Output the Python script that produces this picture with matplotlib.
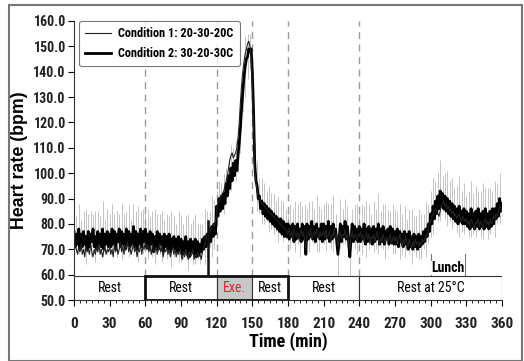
import matplotlib
matplotlib.use("Agg")
import matplotlib.pyplot as plt
import numpy as np
from matplotlib.patches import Rectangle

# ---------------- data ----------------
time_min = list(range(0, 361))

cond2 = [
    77,71,76,72,78,70,76,71,77,72,75,70,77,71,76,73,78,71,75,70,77,72,76,71,78,70,76,72,77,71,
    76,71,78,72,77,70,76,73,78,71,77,72,76,70,78,73,77,71,76,72,79,71,77,70,76,72,78,71,77,73,
    78,71,76,70,77,72,76,69,75,71,77,70,76,72,75,69,76,71,75,70,76,69,74,71,75,70,74,69,75,70,
    74,68,73,69,75,68,73,67,74,69,73,68,74,67,73,68,72,69,74,70,75,71,76,72,78,73,79,75,80,76,
    87,83,90,85,91,86,92,88,96,91,99,94,102,97,104,99,105,101,107,112,118,126,132,138,142,145,146,149,148,149,
    140,125,104,97,95,90,91,86,89,84,88,83,87,82,86,81,85,80,84,79,83,78,82,77,82,76,81,75,80,75,
    80,74,79,75,80,73,79,74,80,75,78,73,80,74,79,68,80,74,79,75,81,74,79,73,80,75,78,74,80,73,
    80,74,79,75,81,73,79,74,80,75,78,73,68,74,80,73,79,75,81,74,79,73,67,74,80,73,79,74,78,73,
    79,73,78,74,80,72,78,73,79,74,78,72,79,73,78,74,80,72,78,73,79,72,77,74,78,72,79,73,78,72,
    77,72,78,71,77,73,76,71,77,72,76,70,77,71,75,70,76,71,75,70,76,71,75,72,77,73,78,75,80,77,
    84,80,87,82,89,84,91,86,93,87,92,86,91,85,90,84,89,83,88,82,87,81,86,80,87,81,85,80,86,80,
    85,79,84,78,86,79,84,78,85,79,86,78,84,79,85,78,86,79,84,78,85,79,86,80,86,82,88,83,90,85,
    88,
]

cond1 = [
    74,71,70,68,71,69,72,68,70,67,71,69,70,68,72,69,67,70,68,71,69,72,68,70,67,69,71,68,70,69,
    71,68,70,67,72,69,71,68,70,73,69,71,68,72,70,73,69,71,68,70,72,69,71,67,70,69,72,68,71,70,
    73,70,72,69,71,68,72,70,69,71,68,70,72,69,71,67,70,69,71,68,70,67,69,71,68,70,67,69,68,70,
    68,66,69,67,70,68,66,69,67,68,70,66,68,67,69,67,68,66,69,70,72,74,75,76,78,77,79,80,79,81,
    85,88,89,90,91,92,93,95,97,99,102,105,107,108,106,107,108,110,114,120,128,135,140,144,147,149,151,152,150,146,
    135,118,102,96,93,91,90,89,88,88,87,86,86,85,85,84,84,83,83,82,82,81,81,80,80,79,79,78,78,77,
    76,78,75,77,74,78,76,75,77,74,76,78,75,77,73,70,76,77,75,78,74,76,77,75,78,76,74,77,75,76,
    77,75,78,74,76,77,73,76,75,78,74,76,71,75,77,74,76,75,78,74,76,73,70,75,77,74,76,75,73,76,
    75,77,74,76,73,75,77,74,76,72,75,74,76,73,75,77,74,72,75,73,76,74,72,75,73,74,76,72,74,75,
    73,75,72,74,76,73,71,74,72,75,73,71,74,72,70,73,71,74,72,73,71,73,72,74,73,74,75,76,78,80,
    81,83,84,85,86,85,84,83,85,87,88,89,87,88,86,87,85,86,84,85,83,84,82,83,84,82,81,83,82,81,
    82,80,81,79,82,81,80,78,81,80,82,79,81,80,78,81,82,80,81,79,82,80,81,83,82,84,83,85,87,86,
    85,
]

err_time = list(range(0, 361, 2))
err_sd = [
    9,7,10,6,8,11,7,9,6,10,8,7,11,6,9,8,10,7,9,6,11,8,7,10,6,9,8,11,7,9,
    8,10,6,9,11,7,8,10,6,9,7,11,8,6,10,9,7,8,11,6,9,10,7,8,6,11,9,7,12,10,
    6,7,5,8,6,7,9,6,8,7,10,8,12,9,7,6,8,10,7,9,8,6,9,7,8,6,9,7,8,6,
    7,9,6,10,8,11,7,9,6,10,8,7,11,9,6,8,10,7,9,11,6,8,10,7,9,8,11,6,9,10,
    8,10,7,11,9,6,10,8,12,7,9,11,8,6,10,9,7,11,8,10,6,9,11,7,8,10,9,7,11,8,
    9,11,8,10,12,7,9,11,8,10,7,9,12,8,10,6,9,11,8,10,7,9,11,8,10,9,7,11,8,10,9,
]

phase_start = [0, 60, 120, 150, 180, 240]
phase_end = [60, 120, 150, 180, 240, 360]
phase_label = ["Rest", "Rest", "Exe.", "Rest", "Rest", "Rest at 25\u00b0C"]
dashed_x = [60, 120, 150, 180, 240]
legend_labels = ["Condition 1: 20-30-20C", "Condition 2: 30-20-30C"]

# ---------------- figure ----------------
NARROW = ["Roboto Condensed", "Liberation Sans", "DejaVu Sans"]
plt.rcParams["font.family"] = NARROW

fig = plt.figure(figsize=(5.24, 3.61), dpi=100)
ax = fig.add_axes([74/524, 1-300/361, (502-74)/524, (300-21)/361])
ax.set_xlim(0, 360)
ax.set_ylim(50, 160)

row_top = 59.5

# error bars (gray)
c2 = np.array(cond2, dtype=float)
et = np.array(err_time)
ed = np.array(err_sd, dtype=float)
mid = c2[et]
lo = np.maximum(mid - ed, row_top)
ax.vlines(et, lo, mid + ed, color="#c4c4c4", lw=0.7, zorder=1)

# dashed phase lines
for xv in dashed_x:
    ax.plot([xv, xv], [row_top, 160], color="#9a9a9a", lw=1.0,
            dashes=(5, 4), zorder=1.5)

ax.plot(time_min, cond1, color="#222222", lw=0.8, zorder=3,
        label=legend_labels[0])
ax.plot(time_min, cond2, color="black", lw=2.0, zorder=2,
        label=legend_labels[1])

# phase boxes
for s, e, lab in zip(phase_start, phase_end, phase_label):
    fc = "#c8c8c8" if lab == "Exe." else "white"
    ax.add_patch(Rectangle((s, 50), e - s, row_top - 50, facecolor=fc,
                           edgecolor="#333333", lw=0.8, zorder=4))
    ax.text((s + e) / 2, (50 + row_top) / 2 - 0.2, lab, ha="center", va="center",
            fontsize=10, color="#e8202a" if lab == "Exe." else "black", zorder=6)
ax.add_patch(Rectangle((60, 50), 120, row_top - 50, facecolor="none",
                       edgecolor="#111111", lw=2.0, zorder=5))

# marker line at ~112 min
ax.plot([112.5, 112.5], [row_top, 81], color="#111111", lw=1.8, zorder=3.5)

# Lunch bracket
ax.plot([300, 300], [row_top, 68], color="#777777", lw=0.8, zorder=3)
ax.plot([329, 329], [row_top, 68], color="#777777", lw=0.8, zorder=3)
ax.text(314.5, 62.6, "Lunch", ha="center", va="center", fontsize=10,
        fontweight="bold", zorder=6,
        bbox=dict(facecolor="white", edgecolor="none", pad=0.2))

# axes styling
for sp in ["top", "right"]:
    ax.spines[sp].set_visible(False)
ax.spines["left"].set_color("#333333")
ax.spines["bottom"].set_color("#333333")
ax.set_yticks(np.arange(50, 161, 10))
ax.set_yticklabels([f"{v:.1f}" for v in np.arange(50, 161, 10)],
                   fontsize=10, fontweight="bold", color="#222222")
ax.set_xticks(np.arange(0, 361, 30))
ax.set_xticks(np.arange(0, 361, 5), minor=True)
ax.set_xticklabels([str(v) for v in range(0, 361, 30)], fontsize=11,
                   fontweight="bold", color="#222222")
ax.tick_params(axis="y", direction="out", length=4, width=0.8, pad=2)
ax.tick_params(axis="x", which="major", direction="out", length=4, width=0.8, pad=8)
ax.tick_params(axis="x", which="minor", direction="out", length=2.5, width=0.6)

ax.set_ylabel("Heart rate (bpm)", fontsize=12.8, fontweight="bold",
              family=["Liberation Sans", "DejaVu Sans"], labelpad=4)
ax.set_xlabel("Time (min)", fontsize=13, fontweight="bold", labelpad=1)

leg = ax.legend(loc="upper left", bbox_to_anchor=(0.012, 1.0), fontsize=8.8,
                frameon=True, fancybox=True, edgecolor="#555555",
                handlelength=2.1, borderpad=0.5, labelspacing=0.55,
                handletextpad=0.6, borderaxespad=0.0)
for t in leg.get_texts():
    t.set_fontweight("bold")
leg.get_frame().set_linewidth(0.8)
leg.set_zorder(10)

# figure border
fig.patches.append(Rectangle((9/524, 0.5/361), (522-9)/524, (355.5)/361,
                             transform=fig.transFigure, fill=False,
                             edgecolor="#777777", lw=1.5))

fig.savefig("out.png", dpi=100)
